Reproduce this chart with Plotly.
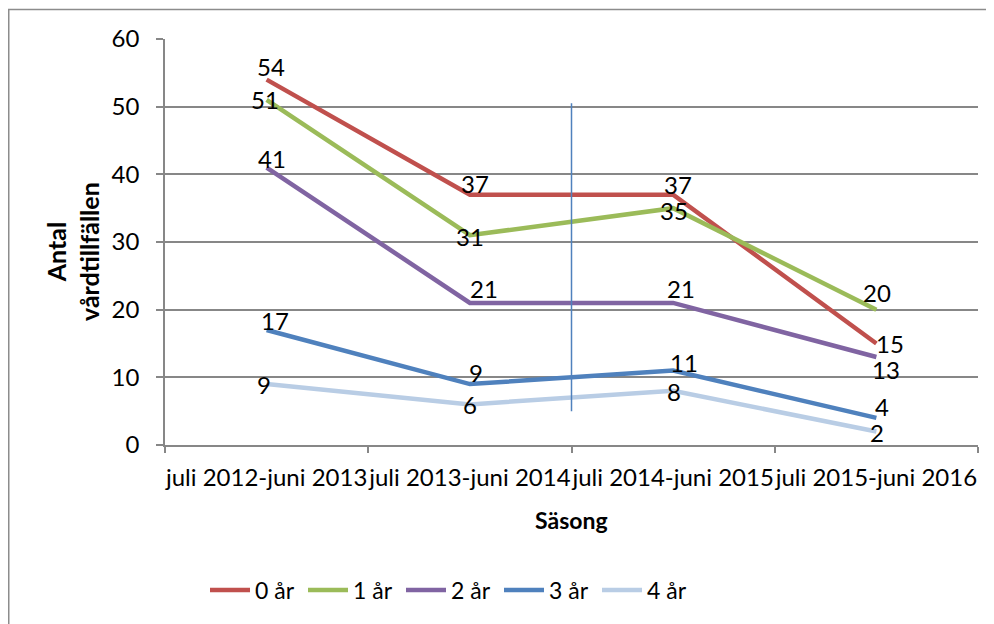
import plotly.graph_objects as go

categories = ["juli 2012-juni 2013", "juli 2013-juni 2014", "juli 2014-juni 2015", "juli 2015-juni 2016"]
series_names = ["0 år", "1 år", "2 år", "3 år", "4 år"]
values_0 = [54, 37, 37, 15]
values_1 = [51, 31, 35, 20]
values_2 = [41, 21, 21, 13]
values_3 = [17, 9, 11, 4]
values_4 = [9, 6, 8, 2]
y_ticks = [0, 10, 20, 30, 40, 50, 60]
divider_at = 1.5
divider_range = [5, 50.5]

all_values = [values_0, values_1, values_2, values_3, values_4]
colors = ["#C0504D", "#9BBB59", "#8064A2", "#4F81BD", "#B9CDE5"]
# label offsets in screen pixels (dx right, dy down)
label_offsets = [
    [(4, -13), (5, -11), (5, -10), (14, 0)],
    [(-2, 0), (0, 1), (1, 2), (1, -17)],
    [(5, -9), (14, -14), (8, -14), (10, 12)],
    [(8, -9), (6, -12), (11, -8), (6, -11)],
    [(-3, 0), (0, 0), (1, 1), (1, 1)],
]

FONT = "Lato, Liberation Sans, sans-serif"
GRID = "#878787"

# page body has an 8px margin; figure frame = reference minus 8px
W, H = 986, 616
L, R, T, B = 157, 16, 31, 179
PW, PH = W - L - R, H - T - B


def px_x(x):  # figure pixel -> paper x
    return (x - L) / PW


def px_y(y):  # figure pixel -> paper y
    return (H - B - y) / PH


fig = go.Figure()
for name, vals, col in zip(series_names, all_values, colors):
    fig.add_trace(go.Scatter(
        x=categories, y=vals, name=name, mode="lines",
        line=dict(color=col, width=4.5), hoverinfo="skip",
    ))

annotations = []
for vals, offs in zip(all_values, label_offsets):
    for c, v, (dx, dy) in zip(categories, vals, offs):
        annotations.append(dict(
            x=c, y=v, text=str(v), showarrow=False, xref="x", yref="y",
            xanchor="center", yanchor="middle",
            xshift=dx, yshift=-dy, font=dict(family=FONT, size=24, color="#000000"),
        ))

annotations.append(dict(
    text="<b>Säsong</b>", x=0.5, xref="paper", y=px_y(520 - 8), yref="paper",
    xanchor="center", yanchor="middle",
    showarrow=False, font=dict(family=FONT, size=23, color="#000000"),
))
annotations.append(dict(
    text="<b>Antal<br>vårdtillfällen</b>", x=px_x(72 - 8), xref="paper",
    y=px_y(252 - 8), yref="paper", textangle=-90, showarrow=False,
    xanchor="center", yanchor="middle",
    font=dict(family=FONT, size=25, color="#000000"),
))

fig.update_layout(
    width=W, height=H, autosize=False,
    margin=dict(l=L, r=R, t=T, b=B, pad=0),
    paper_bgcolor="white", plot_bgcolor="white",
    font=dict(family=FONT, size=24, color="#000000"),
    showlegend=True,
    legend=dict(
        orientation="h", x=px_x(205 - 8), xanchor="left",
        y=px_y(590 - 8), yanchor="middle",
        font=dict(family=FONT, size=23, color="#000000"),
        entrywidth=43, entrywidthmode="pixels", itemwidth=40,
        tracegroupgap=0, bgcolor="rgba(0,0,0,0)",
    ),
    xaxis=dict(
        type="category", range=[-0.5, 3.5], tickson="boundaries",
        showgrid=False, showline=True, linecolor=GRID, linewidth=1.5,
        ticks="outside", ticklen=6, tickcolor=GRID, tickwidth=1.5,
        tickangle=0, tickfont=dict(family=FONT, size=24), ticklabelstandoff=10,
        zeroline=False,
    ),
    yaxis=dict(
        range=[0, 60], tickvals=y_ticks, showgrid=True, gridcolor=GRID, gridwidth=1.5,
        showline=True, linecolor=GRID, linewidth=1.5,
        ticks="outside", ticklen=7, tickcolor=GRID, tickwidth=1.5,
        tickfont=dict(family=FONT, size=24), ticklabelstandoff=12, zeroline=False,
    ),
    annotations=annotations,
    shapes=[
        dict(type="line", xref="x", yref="y", x0=divider_at, x1=divider_at,
             y0=divider_range[0], y1=divider_range[1],
             line=dict(color="#4F81BD", width=1.5)),
        dict(type="rect", xref="paper", yref="paper",
             x0=px_x(0.75), x1=px_x(985),
             y0=px_y(640), y1=px_y(1.5),
             line=dict(color="#8C8C8C", width=1.5), fillcolor="rgba(0,0,0,0)", layer="below"),
    ],
)

fig.write_html("out.html")
